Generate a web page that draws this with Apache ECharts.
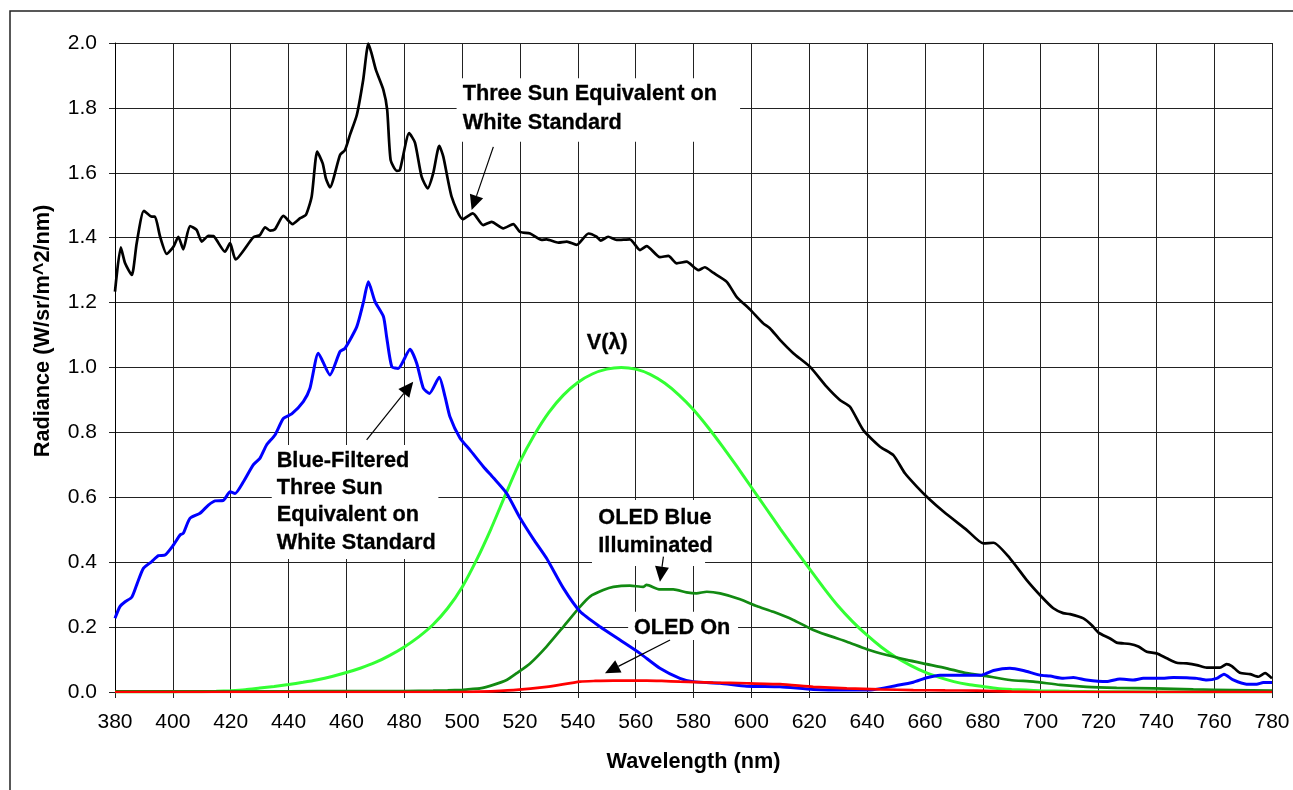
<!DOCTYPE html>
<html>
<head>
<meta charset="utf-8">
<script src="https://cdn.jsdelivr.net/npm/echarts@6/dist/echarts.min.js"></script>
<style>
  html, body { margin: 0; padding: 0; background: #fff; }
  #chart { width: 1293px; height: 790px; }
</style>
</head>
<body>
<div id="chart"></div>
<script>
// Three Sun Equivalent on White Standard
var sunNm = [380, 382, 383.5, 385.8, 387.5, 390, 392.7, 393.8, 395.6, 397.9, 400.2, 401.9, 403.6, 405.9, 408.2, 410, 412.3, 414, 418, 419.8,
    421.7, 427.8, 430.1, 431.9, 433.6, 435.3, 438.2, 441.4, 444, 446, 448, 449.9, 451.8, 452.9, 454.3, 457.8, 459.5, 461.2, 463.6, 465.8,
    467.6, 468.7, 470.2, 472.8, 474.1, 475.3, 477.4, 478.5, 481.7, 483.7, 486, 488.1, 490, 492.1, 493.5, 496.4, 500.2, 503.7, 507.3, 510.2,
    514.2, 517.7, 520, 523.5, 527.5, 529.2, 533.3, 536.2, 539.6, 543.7, 546.5, 547.9, 550.5, 553.4, 558, 561.5, 563.8, 568.4, 571.3, 574.2,
    577.6, 581.7, 583.9, 586.8, 591.5, 594.9, 599.5, 604.1, 606.4, 609.9, 614.5, 620.3, 626, 630.6, 634.1, 638.7, 644.5, 649.1, 653.1, 657.2,
    661.2, 666.4, 674.5, 680.2, 683.7, 689.4, 695.2, 700.5, 704.4, 707.8, 710.2, 714.8, 717.7, 720, 724, 726.3, 730.9, 733.8, 736.7, 740.1,
    743.6, 747.1, 750.5, 754, 757.4, 762, 764.3, 766.1, 768.9, 772.4, 775.3, 777.6, 780];
var sunVal = [1.234, 1.370, 1.321, 1.285, 1.383, 1.483, 1.465, 1.465, 1.403, 1.350, 1.372, 1.403, 1.364, 1.436, 1.424, 1.388, 1.406, 1.405, 1.357, 1.383,
    1.333, 1.401, 1.408, 1.432, 1.422, 1.426, 1.467, 1.442, 1.460, 1.470, 1.527, 1.665, 1.629, 1.583, 1.555, 1.655, 1.670, 1.716, 1.778, 1.886,
    1.998, 1.968, 1.917, 1.855, 1.794, 1.639, 1.606, 1.609, 1.722, 1.693, 1.588, 1.552, 1.598, 1.683, 1.650, 1.526, 1.457, 1.475, 1.439, 1.449,
    1.429, 1.442, 1.418, 1.413, 1.393, 1.395, 1.385, 1.388, 1.378, 1.413, 1.403, 1.391, 1.403, 1.393, 1.395, 1.362, 1.374, 1.340, 1.344, 1.321,
    1.326, 1.300, 1.309, 1.292, 1.264, 1.218, 1.179, 1.136, 1.121, 1.085, 1.044, 1.002, 0.941, 0.900, 0.879, 0.807, 0.756, 0.730, 0.674, 0.633,
    0.597, 0.556, 0.499, 0.458, 0.460, 0.412, 0.345, 0.292, 0.258, 0.243, 0.240, 0.227, 0.206, 0.183, 0.165, 0.152, 0.148, 0.140, 0.124, 0.119,
    0.104, 0.090, 0.088, 0.083, 0.075, 0.075, 0.086, 0.080, 0.059, 0.055, 0.047, 0.058, 0.042];

// Blue-Filtered Three Sun Equivalent
var blueNm = [380, 381.7, 383.5, 385.8, 387.5, 389.8, 392.7, 395, 397.3, 400.2, 402.5, 403.6, 405.9, 409.4, 412.3, 414.6, 417.4, 419.8, 421.5, 424.4,
    427.8, 430.1, 432.4, 435.3, 438.2, 441.1, 445.1, 447.4, 450.3, 454.3, 457.8, 459.5, 463.6, 465.8, 467.6, 469.9, 472.8, 473.9, 475.7, 477.9,
    482, 484.3, 486.6, 488.7, 492.1, 494.1, 495.8, 499.3, 502.7, 507.3, 510.8, 515.4, 520, 524.6, 529.2, 535, 540.8, 547.7, 554.6, 561.5,
    568.4, 575.3, 579.9, 589.2, 598.4, 609.9, 621.4, 633, 641, 650.2, 656, 660.6, 665.2, 674.4, 679.6, 683.7, 689.4, 694, 699.8, 703.3,
    707.8, 711.3, 715.9, 722.8, 727.4, 732, 735.5, 741.3, 745.9, 750.5, 754, 757.4, 760.9, 763.4, 766.6, 771.2, 774.7, 777, 780];
var blueVal = [0.227, 0.263, 0.278, 0.292, 0.330, 0.381, 0.402, 0.420, 0.422, 0.453, 0.484, 0.489, 0.535, 0.551, 0.576, 0.589, 0.590, 0.617, 0.612, 0.648,
    0.700, 0.720, 0.761, 0.792, 0.843, 0.857, 0.895, 0.936, 1.044, 0.977, 1.049, 1.059, 1.126, 1.198, 1.264, 1.203, 1.157, 1.095, 1.002, 0.997,
    1.056, 1.013, 0.936, 0.920, 0.970, 0.910, 0.848, 0.782, 0.746, 0.695, 0.660, 0.612, 0.537, 0.472, 0.412, 0.320, 0.248, 0.201, 0.160, 0.119,
    0.073, 0.042, 0.032, 0.027, 0.018, 0.016, 0.008, 0.006, 0.006, 0.020, 0.030, 0.044, 0.052, 0.052, 0.052, 0.066, 0.073, 0.066, 0.052, 0.049,
    0.042, 0.045, 0.037, 0.032, 0.040, 0.037, 0.042, 0.042, 0.045, 0.044, 0.042, 0.037, 0.042, 0.055, 0.037, 0.024, 0.024, 0.029, 0.029];

// V(lambda)
var vNm = [380, 385, 390, 395, 400, 405, 410, 415, 420, 425, 430, 435, 440, 445, 450, 455, 460, 465, 470, 475,
    480, 485, 490, 495, 500, 505, 510, 515, 520, 525, 530, 535, 540, 545, 550, 555, 560, 565, 570, 575,
    580, 585, 590, 595, 600, 605, 610, 615, 620, 625, 630, 635, 640, 645, 650, 655, 660, 665, 670, 675,
    680, 685, 690, 695, 700, 710, 720, 740, 780];
var vVal = [0.000, 0.000, 0.000, 0.000, 0.000, 0.001, 0.001, 0.002, 0.004, 0.007, 0.012, 0.017, 0.023, 0.030, 0.038, 0.048, 0.060, 0.074, 0.091, 0.113,
    0.139, 0.170, 0.208, 0.258, 0.323, 0.407, 0.503, 0.608, 0.710, 0.793, 0.862, 0.915, 0.954, 0.980, 0.995, 1.000, 0.995, 0.979, 0.952, 0.915,
    0.870, 0.816, 0.757, 0.695, 0.631, 0.567, 0.503, 0.441, 0.381, 0.321, 0.265, 0.217, 0.175, 0.138, 0.107, 0.082, 0.061, 0.045, 0.032, 0.023,
    0.017, 0.011, 0.008, 0.006, 0.004, 0.002, 0.001, 0.000, 0.000];

// OLED Blue Illuminated
var oledBlueNm = [380, 400, 420, 440, 460, 480, 490, 495, 500, 503, 506.2, 510.8, 515.4, 518.9, 523.5, 529.2, 535, 540.8, 544.2, 548.8,
    552.3, 558, 562.6, 563.8, 568.4, 573, 577.6, 581, 584.6, 589.2, 596.1, 601.8, 607.6, 614.5, 620.3, 626, 633, 639.9, 646.8, 653.7,
    660.6, 667.5, 674.4, 681.4, 689.4, 697.5, 706.7, 715.9, 726.3, 739, 752.8, 766.6, 780];
var oledBlueVal = [0.002, 0.002, 0.002, 0.002, 0.003, 0.003, 0.004, 0.005, 0.007, 0.009, 0.011, 0.022, 0.037, 0.058, 0.088, 0.140, 0.201, 0.263, 0.294, 0.314,
    0.324, 0.328, 0.324, 0.330, 0.316, 0.316, 0.307, 0.304, 0.309, 0.304, 0.286, 0.265, 0.247, 0.222, 0.196, 0.176, 0.155, 0.132, 0.114, 0.099,
    0.086, 0.073, 0.058, 0.049, 0.037, 0.032, 0.022, 0.016, 0.013, 0.011, 0.008, 0.006, 0.004];

// OLED On
var oledOnNm = [380, 500, 506, 517.7, 529.2, 540.8, 546, 552.3, 558, 563.8, 569, 575.3, 586.8, 598.4, 609.9, 621.4, 633, 644.5, 656, 667,
    678, 690, 700, 780];
var oledOnVal = [0.000, 0.000, 0.001, 0.006, 0.016, 0.032, 0.034, 0.035, 0.035, 0.035, 0.034, 0.032, 0.029, 0.027, 0.024, 0.016, 0.011, 0.008, 0.006, 0.005,
    0.004, 0.001, 0.000, 0.000];

var xTicks = [380, 780, 20];
var yTicks = [0, 2.0, 0.2];

// callouts, positions in data units (nm, radiance)
var notes = [
    { lines: ['Three Sun Equivalent on', 'White Standard'], at: [500.2, 1.887], lh: 29, box: [498.1, 1.891, 596.1, 1.696] },
    { lines: ['Blue-Filtered', 'Three Sun', 'Equivalent on', 'White Standard'], at: [435.9, 0.754], lh: 27.2, box: [434.2, 0.761, 491.8, 0.410] },
    { lines: ['V(\u03bb)'], at: [543.1, 1.116], lh: 27, box: null },
    { lines: ['OLED Blue', 'Illuminated'], at: [547.1, 0.579], lh: 28, box: [544.9, 0.592, 584.0, 0.388] },
    { lines: ['OLED On'], at: [559.4, 0.240], lh: 27, box: [557.4, 0.247, 595.4, 0.160] }
];
var arrows = [
    [510.8, 1.680, 503.3, 1.485],
    [467.0, 0.777, 483.1, 0.956],
    [569.6, 0.417, 568.4, 0.340],
    [571.9, 0.160, 549.4, 0.058]
];

function pairs(xs, ys) {
    var out = [];
    for (var i = 0; i < xs.length; i++) out.push([xs[i], ys[i]]);
    return out;
}

var FONT = '"Liberation Sans", Arial, sans-serif';
var myChart = echarts.init(document.getElementById('chart'));

function curve(name, color, width, xs, ys) {
    return {
        name: name,
        type: 'line',
        data: pairs(xs, ys),
        showSymbol: false,
        smooth: 0.2,
        lineStyle: { color: color, width: width },
        itemStyle: { color: color },
        animation: false
    };
}

var option = {
    backgroundColor: '#fff',
    animation: false,
    grid: { left: 115, right: 21, top: 43, bottom: 98 },
    xAxis: {
        type: 'value',
        min: xTicks[0],
        max: xTicks[1],
        interval: xTicks[2],
        name: 'Wavelength (nm)',
        nameLocation: 'middle',
        nameGap: 59,
        nameTextStyle: { fontFamily: FONT, fontSize: 21.7, fontWeight: 'bold', color: '#000' },
        axisLine: { lineStyle: { color: '#000', width: 1 } },
        axisTick: { show: true, length: 6, lineStyle: { color: '#222' } },
        axisLabel: { margin: 20, fontFamily: FONT, fontSize: 21, color: '#000' },
        splitLine: { show: true, lineStyle: { color: '#222', width: 1 } }
    },
    yAxis: {
        type: 'value',
        min: yTicks[0],
        max: yTicks[1],
        interval: yTicks[2],
        axisLine: { show: true, lineStyle: { color: '#000', width: 1 } },
        axisTick: { show: true, length: 6, lineStyle: { color: '#222' } },
        axisLabel: {
            margin: 18, fontFamily: FONT, fontSize: 21, color: '#000',
            formatter: function (v) { return v.toFixed(1); }
        },
        splitLine: { show: true, lineStyle: { color: '#222', width: 1 } }
    },
    series: [
        curve('Three Sun Equivalent on White Standard', '#000000', 2.7, sunNm, sunVal),
        curve('V(\u03bb)', '#33ff33', 3, vNm, vVal),
        curve('OLED Blue Illuminated', '#128a12', 2.7, oledBlueNm, oledBlueVal),
        curve('Blue-Filtered Three Sun Equivalent on White Standard', '#0000ff', 3, blueNm, blueVal),
        curve('OLED On', '#ff0000', 2.7, oledOnNm, oledOnVal)
    ]
};
myChart.setOption(option);

// callout boxes, text and arrows
function px(x, y) {
    return myChart.convertToPixel({ gridIndex: 0 }, [x, y]);
}

var graphics = [];
graphics.push({
    type: 'rect', shape: { x: 10, y: 11, width: 1400, height: 900 }, silent: true, z: 0,
    style: { fill: null, stroke: '#222', lineWidth: 1.5 }
});
graphics.push({
    type: 'text', x: 43, y: 331, rotation: Math.PI / 2, z: 10,
    style: {
        text: 'Radiance (W/sr/m^2/nm)', font: 'bold 21.7px ' + FONT, fill: '#000',
        align: 'center', verticalAlign: 'middle'
    }
});

notes.forEach(function (n) {
    if (n.box) {
        var a = px(n.box[0], n.box[1]);
        var b = px(n.box[2], n.box[3]);
        graphics.push({
            type: 'rect', z: 20,
            shape: { x: a[0], y: a[1], width: b[0] - a[0], height: b[1] - a[1] },
            style: { fill: '#fff', stroke: null }
        });
    }
    var p = px(n.at[0], n.at[1]);
    graphics.push({
        type: 'text', x: p[0], y: p[1], z: 21,
        style: {
            text: n.lines.join('\n'), font: 'bold 21.7px ' + FONT, fill: '#000',
            stroke: '#000', lineWidth: 0.3,
            lineHeight: n.lh, align: 'left', verticalAlign: 'top'
        }
    });
});

arrows.forEach(function (ar) {
    var s = px(ar[0], ar[1]);
    var t = px(ar[2], ar[3]);
    var dx = t[0] - s[0], dy = t[1] - s[1];
    var len = Math.sqrt(dx * dx + dy * dy);
    var ux = dx / len, uy = dy / len;
    var headL = 15, headW = 7;
    var bx = t[0] - ux * headL, by = t[1] - uy * headL;
    graphics.push({
        type: 'line', z: 22,
        shape: { x1: s[0], y1: s[1], x2: bx, y2: by },
        style: { stroke: '#000', lineWidth: 1.2 }
    });
    graphics.push({
        type: 'polygon', z: 22,
        shape: { points: [[t[0], t[1]], [bx - uy * headW, by + ux * headW], [bx + uy * headW, by - ux * headW]] },
        style: { fill: '#000' }
    });
});

myChart.setOption({ graphic: graphics });
</script>
</body>
</html>
